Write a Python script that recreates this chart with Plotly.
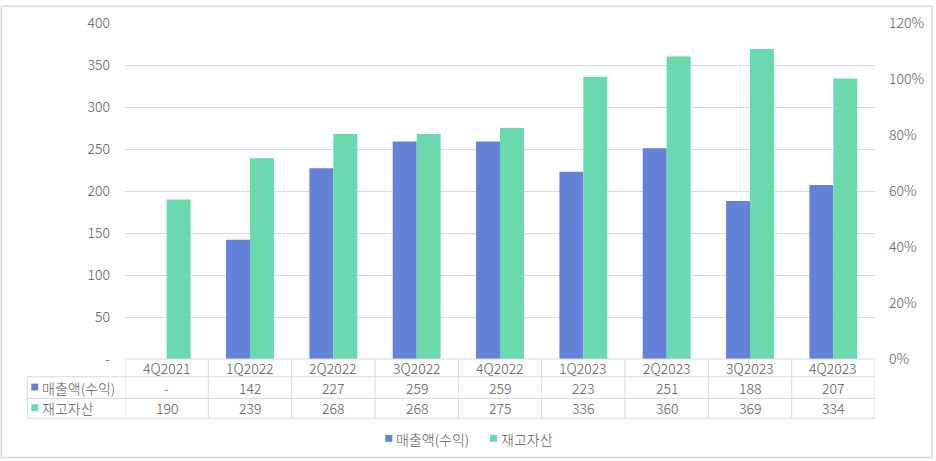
import plotly.graph_objects as go

# data
quarters = ["4Q2021", "1Q2022", "2Q2022", "3Q2022", "4Q2022",
            "1Q2023", "2Q2023", "3Q2023", "4Q2023"]
revenue = [None, 142, 227, 259, 259, 223, 251, 188, 207]
inventory = [190, 239, 268, 268, 275, 336, 360, 369, 334]
series_names = ["매출액(수익)", "재고자산"]
left_ticks = [0, 50, 100, 150, 200, 250, 300, 350, 400]
left_ticktext = ["-", "50", "100", "150", "200", "250", "300", "350", "400"]
right_ticks = [0, 0.2, 0.4, 0.6, 0.8, 1.0, 1.2]

BLUE = "#6483D8"
GREEN = "#6AD9AE"
GRID = "#D9D9D9"
TXT = "#595959"
FONT = "Noto Sans CJK KR"

W, H = 936, 461
L, R, T, B = 125, 877, 18, 359  # plot area in pixels


def py(p):
    """pixel y -> paper y"""
    return (B - p) / (B - T)


def pxx(p):
    """pixel x -> paper x"""
    return (p - L) / (R - L)


fig = go.Figure()
fig.add_trace(go.Bar(x=quarters, y=revenue, name=series_names[0],
                     marker=dict(color=BLUE, line=dict(width=0))))
fig.add_trace(go.Bar(x=quarters, y=inventory, name=series_names[1],
                     marker=dict(color=GREEN, line=dict(width=0))))
# empty trace just to get the right axis
fig.add_trace(go.Scatter(x=[quarters[0]], y=[None], yaxis="y2",
                         showlegend=False, hoverinfo="skip"))

shapes = []
annos = []
line = dict(color=GRID, width=1)

# table horizontal lines
shapes.append(dict(type="line", xref="paper", yref="paper",
                   x0=0, x1=1, y0=py(359), y1=py(359), line=line))
for yy in [377, 399, 419]:
    shapes.append(dict(type="line", xref="paper", yref="paper",
                       x0=pxx(27), x1=1, y0=py(yy), y1=py(yy), line=line))
# vertical lines
shapes.append(dict(type="line", xref="paper", yref="paper",
                   x0=pxx(27), x1=pxx(27), y0=py(377), y1=py(419), line=line))
for k in range(len(quarters) + 1):
    shapes.append(dict(type="line", xref="x", yref="paper",
                       x0=k - 0.5, x1=k - 0.5, y0=py(359), y1=py(419), line=line))

# header row + values
rows = [revenue, inventory]
row_y = [388, 409]
for i, q in enumerate(quarters):
    annos.append(dict(x=q, xref="x", y=py(368), yref="paper", text=q,
                      showarrow=False, xanchor="center", yanchor="middle"))
    for vals, yy in zip(rows, row_y):
        v = vals[i]
        annos.append(dict(x=q, xref="x", y=py(yy), yref="paper",
                          text="-" if v is None else str(v),
                          showarrow=False, xanchor="center", yanchor="middle"))


def key(x, y, col, text):
    # small coloured square + label (used in table and bottom legend)
    shapes.append(dict(type="rect", xref="paper", yref="paper",
                       x0=pxx(x), x1=pxx(x + 7), y0=py(y - 4), y1=py(y + 3),
                       fillcolor=col, line=dict(width=0)))
    annos.append(dict(x=pxx(x + 9), xref="paper", y=py(y), yref="paper", text=text,
                      showarrow=False, xanchor="left", yanchor="middle"))


# row labels with colour keys
for nm, col, yy in zip(series_names, [BLUE, GREEN], row_y):
    key(31, yy, col, nm)

# bottom legend
key(386, 440, BLUE, series_names[0])
key(491, 440, GREEN, series_names[1])

# outer frame
shapes.append(dict(type="rect", xref="paper", yref="paper",
                   x0=pxx(1), x1=pxx(934), y0=py(1), y1=py(459),
                   line=dict(color=GRID, width=1.5), layer="below"))

fig.update_layout(
    width=W, height=H,
    margin=dict(l=L, r=W - R, t=T, b=H - B),
    paper_bgcolor="white", plot_bgcolor="white",
    font=dict(family=FONT, size=14, color=TXT, weight=300),
    showlegend=False,
    barmode="group", bargap=0.425, bargroupgap=0,
    xaxis=dict(type="category", range=[-0.5, len(quarters) - 0.5],
               showticklabels=False, showgrid=False, zeroline=False, showline=False),
    yaxis=dict(range=[0, 400], tickvals=left_ticks, ticktext=left_ticktext,
               showgrid=True, gridcolor=GRID, gridwidth=1, zeroline=False,
               ticks="", ticklabelstandoff=14),
    yaxis2=dict(range=[0, 1.2], tickvals=right_ticks, tickformat=".0%",
                overlaying="y", side="right", showgrid=False, zeroline=False,
                ticks="", ticklabelstandoff=13),
    shapes=shapes, annotations=annos,
)

fig.write_html("out.html", config={"displayModeBar": False},
               post_script="document.body.style.margin='0';")
